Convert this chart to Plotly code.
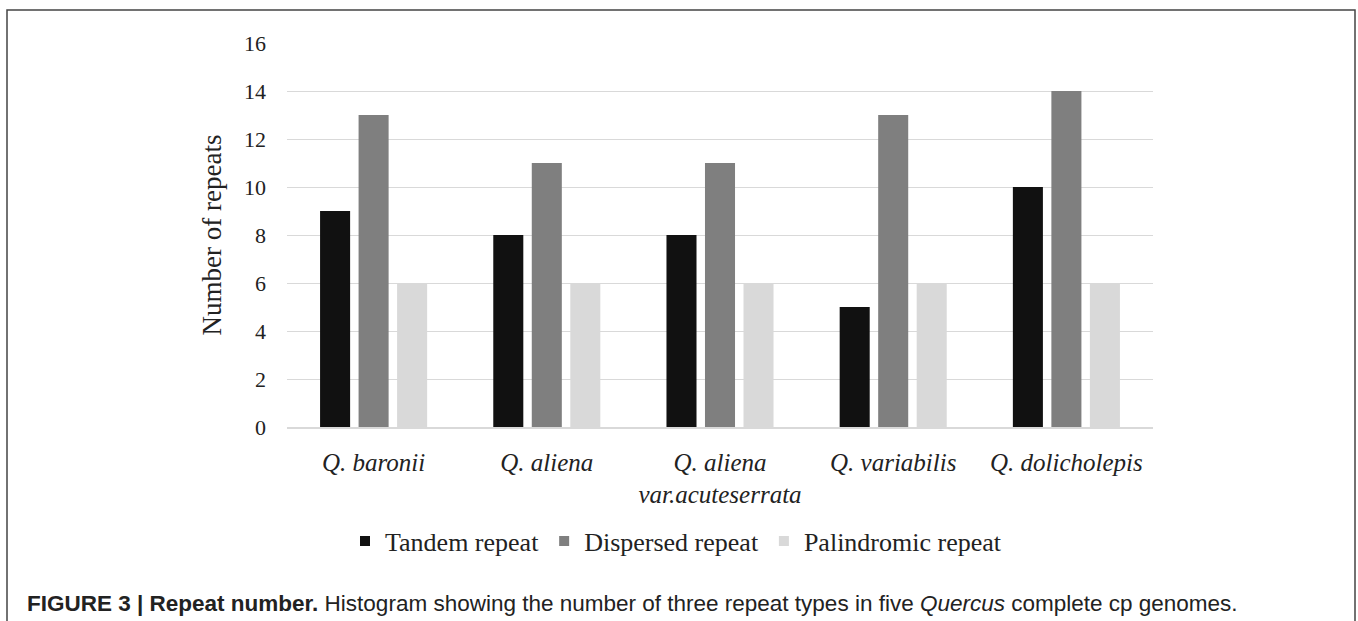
import plotly.graph_objects as go

# Repeat counts per species
species = [
    "Q. baronii",
    "Q. aliena",
    "Q. aliena<br>var.acuteserrata",
    "Q. variabilis",
    "Q. dolicholepis",
]
tandem = [9, 8, 8, 5, 10]
dispersed = [13, 11, 11, 13, 14]
palindromic = [6, 6, 6, 6, 6]

series_names = ["Tandem repeat", "Dispersed repeat", "Palindromic repeat"]
series_values = [tandem, dispersed, palindromic]
series_colors = ["#111111", "#7f7f7f", "#d9d9d9"]

y_ticks = [0, 2, 4, 6, 8, 10, 12, 14, 16]

# Page geometry (pixels)
W, H = 1358, 621
ML, MR, MT, MB = 287, 205, 43, 194
PW, PH = W - ML - MR, H - MT - MB


def px_x(x):
    return (x - ML) / PW


def px_y(y):
    return (H - MB - y) / PH


SERIF = "Liberation Serif, Times New Roman, serif"
SANS = "Liberation Sans, Arial, sans-serif"

fig = go.Figure()
for name, vals, col in zip(series_names, series_values, series_colors):
    fig.add_trace(go.Bar(
        x=species, y=vals, name=name, marker=dict(color=col, line=dict(width=0)),
        showlegend=False, legendgroup=name,
    ))
    # small square swatch for the legend
    fig.add_trace(go.Scatter(
        x=[None], y=[None], mode="markers", name=name, legendgroup=name,
        marker=dict(symbol="square", size=10, color=col),
    ))

fig.update_layout(
    width=W, height=H,
    margin=dict(l=ML, r=MR, t=MT, b=MB),
    paper_bgcolor="white", plot_bgcolor="white",
    barmode="group", bargap=0.333, bargroupgap=0.22,
    font=dict(family=SERIF, color="#222222"),
    legend=dict(
        orientation="h", x=px_x(345), y=px_y(541), xanchor="left", yanchor="middle",
        font=dict(family=SERIF, size=26, color="#222222"),
        itemwidth=30, tracegroupgap=0,
    ),
    xaxis=dict(
        type="category", showgrid=False, zeroline=False,
        showline=True, linecolor="#d9d9d9", linewidth=1.5,
        ticks="", tickfont=dict(family=SERIF, size=25, style="italic", color="#222222"),
        ticklabelstandoff=12,
    ),
    yaxis=dict(
        range=[0, 16], tickvals=y_ticks, showgrid=True, gridcolor="#d9d9d9",
        gridwidth=1.3, zeroline=False, showline=False, ticks="",
        tickfont=dict(family=SERIF, size=22, color="#222222"),
        ticklabelstandoff=20,
        title=dict(text="Number of repeats", font=dict(family=SERIF, size=27, color="#222222"),
                   standoff=14),
    ),
    shapes=[dict(
        type="rect", xref="paper", yref="paper",
        x0=px_x(7), x1=px_x(1355), y0=px_y(700), y1=px_y(10),
        line=dict(color="#444444", width=1.5), layer="below",
    )],
    annotations=[dict(
        xref="paper", yref="paper", x=px_x(25), y=px_y(603),
        xanchor="left", yanchor="middle", showarrow=False,
        text="<b>FIGURE 3 | Repeat number.</b> Histogram showing the number of three "
             "repeat types in five <i>Quercus</i> complete cp genomes.",
        font=dict(family=SANS, size=22.5, color="#222222"),
    )],
)

fig.write_html("out.html")
